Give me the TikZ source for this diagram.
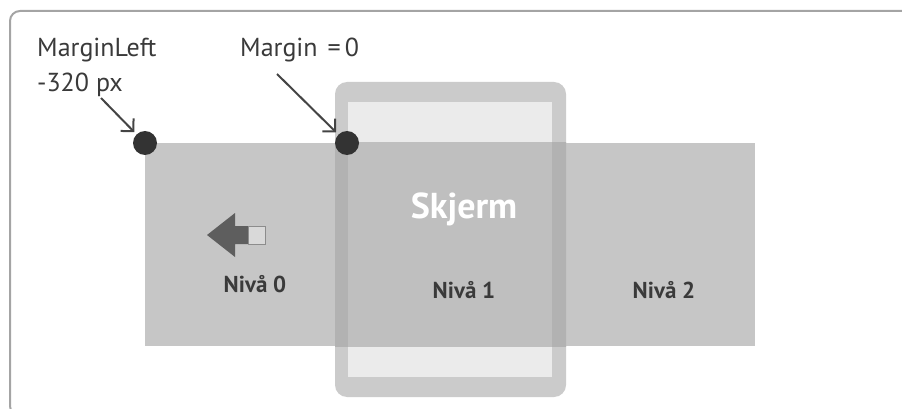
\documentclass[tikz,border=0pt]{standalone}
\usepackage{fontspec}
\setmainfont{PT Sans}
\usetikzlibrary{arrows.meta}
\definecolor{framec}{HTML}{A4A4A4}
\definecolor{lvl}{HTML}{C6C6C6}
\definecolor{devc}{HTML}{CBCBCB}
\definecolor{devov}{HTML}{B2B2B2}
\definecolor{scr}{HTML}{EBEBEB}
\definecolor{scrov}{HTML}{BFBFBF}
\definecolor{dotc}{HTML}{333333}
\definecolor{arrc}{HTML}{444444}
\definecolor{txt}{HTML}{3A3A3A}
\definecolor{icon}{HTML}{5E5E5E}
\tikzset{
  lbl/.style={font=\fontsize{26}{28}\selectfont, text=txt, anchor=base west, inner sep=0pt},
  lvltxt/.style={font=\bfseries\fontsize{23}{25}\selectfont, text=txt, inner sep=0pt},
  dotnode/.style={circle, fill=dotc, minimum size=24pt, inner sep=0pt},
  pointer/.style={draw=arrc, line width=2pt, -{Straight Barb[length=9pt,width=18pt,line width=2pt]}, shorten >=3pt}
}
\begin{document}
\begin{tikzpicture}[x=1pt,y=-1pt]
\useasboundingbox (0,0) rectangle (902,409);
\begin{scope}
\clip (0,0) rectangle (902,409);
% outer frame
\draw[framec, line width=2pt, rounded corners=10pt] (10,11) rectangle (912,416);
% levels
\fill[lvl] (145,143) rectangle (755,346);
% device
\fill[devc, rounded corners=12pt] (335,82) rectangle (566,397);
\fill[scr] (348,102) rectangle (552,377);
\begin{scope}
\clip (145,143) rectangle (755,346);
\fill[devov, rounded corners=12pt] (335,82) rectangle (566,397);
\fill[scrov] (348,102) rectangle (552,377);
\end{scope}
\end{scope}
% icon arrow
\fill[icon] (207,235) -- (235,213) -- (235,226) -- (248,226) -- (248,244) -- (235,244) -- (235,257) -- cycle;
\draw[fill=black!15, draw=black!45, line width=0.8pt] (248,226) rectangle (265,244);
% texts
\node[lbl] (ml) at (37,57) {MarginLeft};
\node[lbl] (px) at (37,92) {-320 px};
\node[lbl] (m0) at (240,57) {Margin\hspace{10pt}=\hspace{4pt}0};
\node[font=\bfseries\fontsize{36}{38}\selectfont, text=white, inner sep=0pt, anchor=base] (skj) at (464,218) {Skjerm};
\node[lvltxt, anchor=base] (n0) at (255,292) {Nivå 0};
\node[lvltxt, anchor=base] (n1) at (464,298) {Nivå 1};
\node[lvltxt, anchor=base] (n2) at (664,298) {Nivå 2};
% dots
\node[dotnode] (d1) at (145,143) {};
\node[dotnode] (d2) at (347,143) {};
% pointers
\coordinate (p1) at (101,98);
\coordinate (p2) at (277,74);
\draw[pointer] (p1) -- (d1);
\draw[pointer] (p2) -- (d2);
\end{tikzpicture}
\end{document}
